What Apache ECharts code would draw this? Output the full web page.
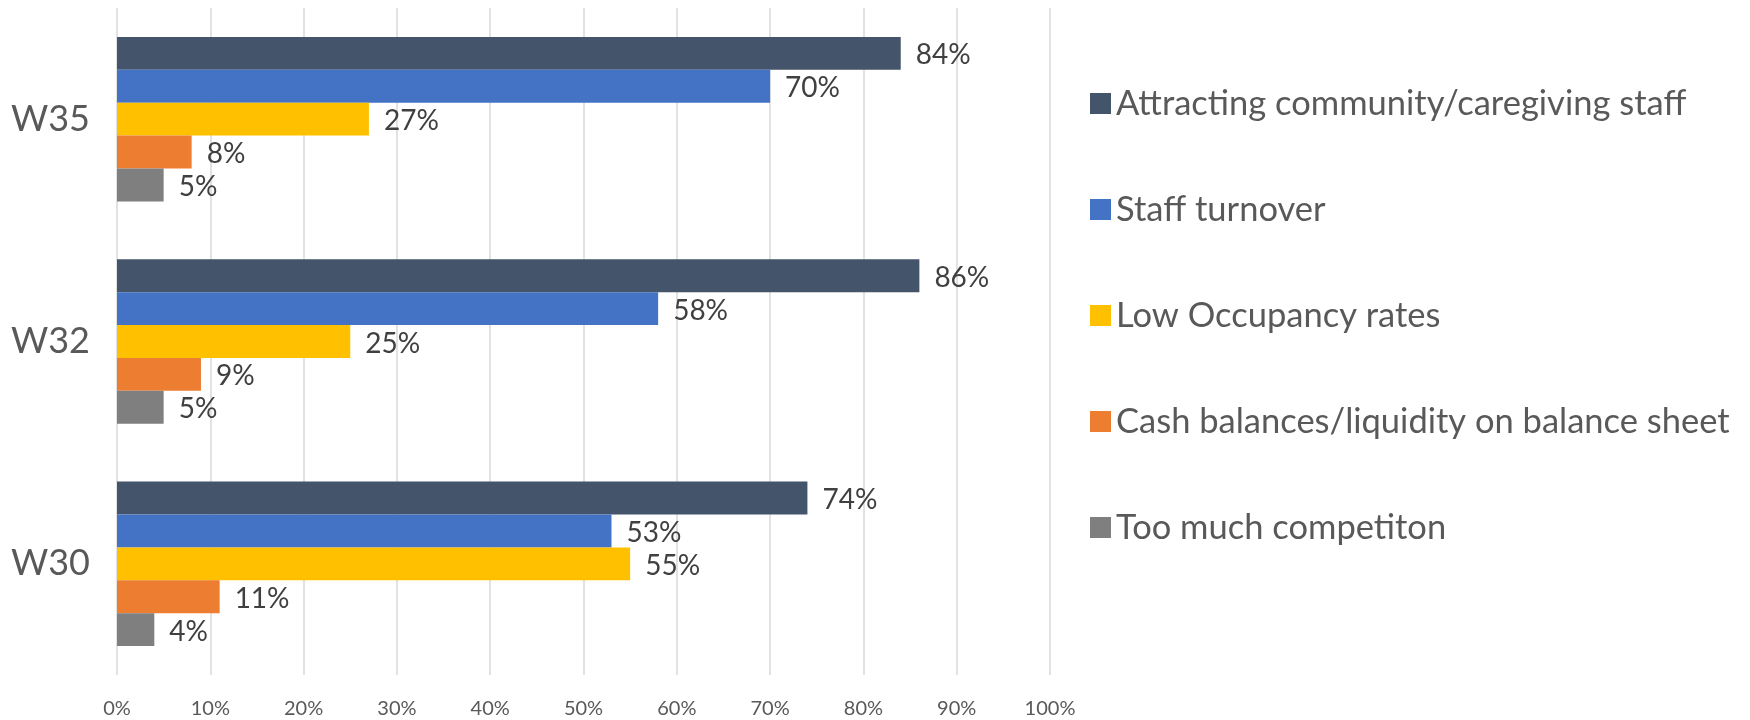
<!DOCTYPE html>
<html>
<head>
<meta charset="utf-8">
<script src="https://cdn.jsdelivr.net/npm/echarts@6/dist/echarts.min.js"></script>
<style>
  html, body { margin: 0; padding: 0; background: #fff; }
  #chart { width: 1750px; height: 720px; }
</style>
</head>
<body>
<div id="chart"></div>
<script>
const waves = ['W30', 'W32', 'W35']
const seriesNames = [
  'Attracting community/caregiving staff',
  'Staff turnover',
  'Low Occupancy rates',
  'Cash balances/liquidity on balance sheet',
  'Too much competiton'
]
const seriesColors = ['#44546A', '#4472C4', '#FFC000', '#ED7D31', '#7F7F7F']
// values per wave, same order as waves (W30, W32, W35)
const attracting = [74, 86, 84]
const turnover = [53, 58, 70]
const occupancy = [55, 25, 27]
const cash = [11, 9, 8]
const competition = [4, 5, 5]
const xTicks = [0, 10, 20, 30, 40, 50, 60, 70, 80, 90, 100]

const font = 'Lato'
const values = [attracting, turnover, occupancy, cash, competition]

const series = values.map((data, i) => ({
  name: seriesNames[i],
  type: 'bar',
  data: data,
  barGap: '0%',
  barCategoryGap: '26%',
  itemStyle: { color: seriesColors[i] },
  label: {
    show: true,
    position: 'right',
    distance: 15,
    offset: [0, 2],
    formatter: '{c}%',
    color: '#404040',
    fontFamily: font,
    fontSize: 28
  }
}))

const chart = echarts.init(document.getElementById('chart'))
chart.setOption({
  animation: false,
  grid: { left: 117, right: 700, top: 8, bottom: 45 },
  xAxis: {
    type: 'value',
    min: xTicks[0],
    max: xTicks[xTicks.length - 1],
    interval: 10,
    axisLine: { show: false },
    axisTick: { show: false },
    splitLine: { lineStyle: { color: '#d9d9d9', width: 1.5 } },
    axisLabel: {
      formatter: '{value}%',
      color: '#595959',
      fontFamily: font,
      fontSize: 20,
      margin: 24
    }
  },
  yAxis: {
    type: 'category',
    data: waves,
    axisLine: { show: false },
    axisTick: { show: false },
    axisLabel: {
      color: '#595959',
      fontFamily: font,
      fontSize: 36,
      margin: 27
    }
  },
  legend: {
    data: seriesNames,
    orient: 'vertical',
    left: 1085,
    top: 81,
    itemWidth: 21,
    itemHeight: 21,
    itemGap: 71,
    icon: 'rect',
    textStyle: {
      color: '#595959',
      fontFamily: font,
      fontSize: 34.5
    }
  },
  series: series
})
</script>
</body>
</html>
